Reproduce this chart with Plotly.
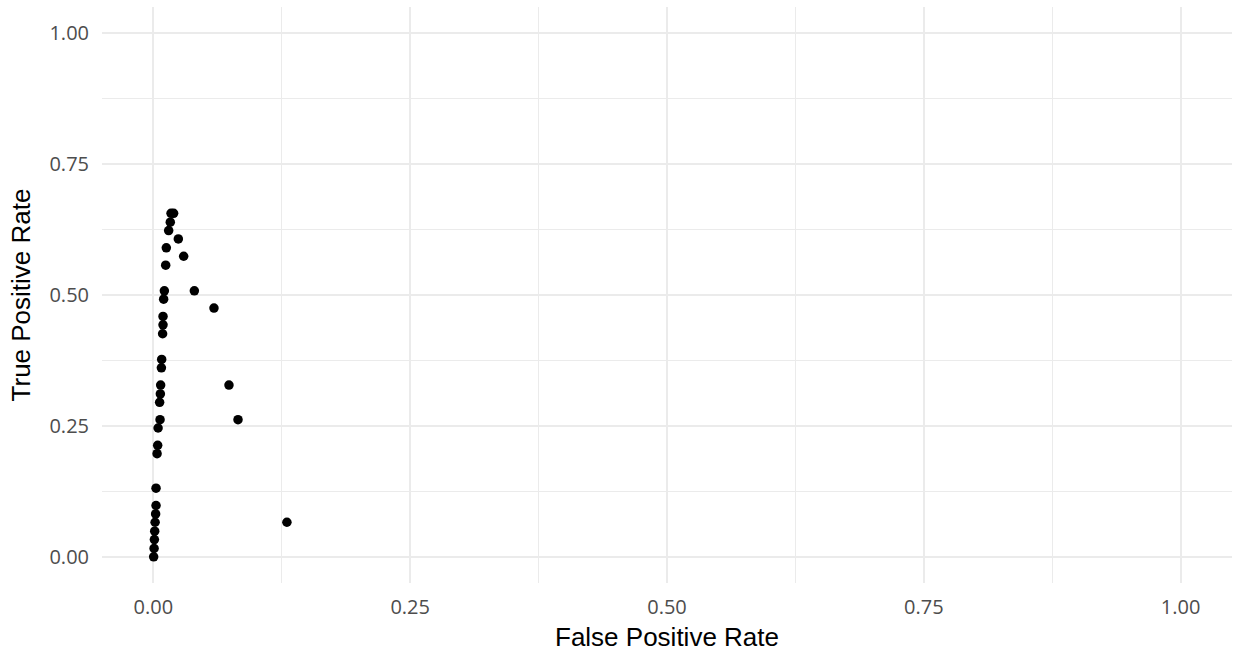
import plotly.graph_objects as go

fpr = [0.0197, 0.0172, 0.0165, 0.0149, 0.0243, 0.0126, 0.0295, 0.0120, 0.0107, 0.0399,
       0.0100, 0.0590, 0.0094, 0.0094, 0.0090, 0.0081, 0.0078, 0.0071, 0.0736, 0.0068,
       0.0061, 0.0065, 0.0824, 0.0046, 0.0042, 0.0036, 0.0026, 0.0026, 0.0022, 0.0017,
       0.0013, 0.0010, 0.0007, 0.0003, 0.1300]
tpr = [0.656, 0.656, 0.639, 0.623, 0.607, 0.590, 0.574, 0.557, 0.508, 0.508,
       0.492, 0.475, 0.459, 0.443, 0.426, 0.377, 0.361, 0.328, 0.328, 0.311,
       0.295, 0.262, 0.262, 0.246, 0.213, 0.197, 0.131, 0.098, 0.082, 0.066,
       0.049, 0.033, 0.016, 0.000, 0.066]

tick_vals = [0.0, 0.25, 0.5, 0.75, 1.0]
tick_text = ["0.00", "0.25", "0.50", "0.75", "1.00"]

fig = go.Figure()
fig.add_trace(go.Scatter(x=fpr, y=tpr, mode="markers",
                         marker=dict(color="black", size=9.5, line=dict(width=0)),
                         showlegend=False, hoverinfo="x+y"))

grid = "#EBEBEB"
tickfont = dict(family="Open Sans, Liberation Sans, Arial", size=20, color="#4D4D4D")
titlefont = dict(family="Liberation Sans, Arial", size=26, color="black")

common = dict(range=[-0.05, 1.05], tickvals=tick_vals, ticktext=tick_text,
              showgrid=True, gridcolor=grid, gridwidth=2, zeroline=False,
              showline=False, ticks="", tickfont=tickfont,
              minor=dict(showgrid=True, gridcolor=grid, gridwidth=1, dtick=0.125, tick0=0),
              automargin=False)

fig.update_xaxes(**common, title=dict(text="False Positive Rate", font=titlefont, standoff=8),
                 ticklabelstandoff=10)
fig.update_yaxes(**common, title=dict(text="True Positive Rate", font=titlefont, standoff=11),
                 ticklabelstandoff=12)

fig.update_layout(width=1236, height=658, plot_bgcolor="white", paper_bgcolor="white",
                  margin=dict(l=101.6, r=3.6, t=7.3, b=74.8))

fig.write_html("out.html", config={"displayModeBar": False},
               post_script="document.body.style.margin='0px';")
